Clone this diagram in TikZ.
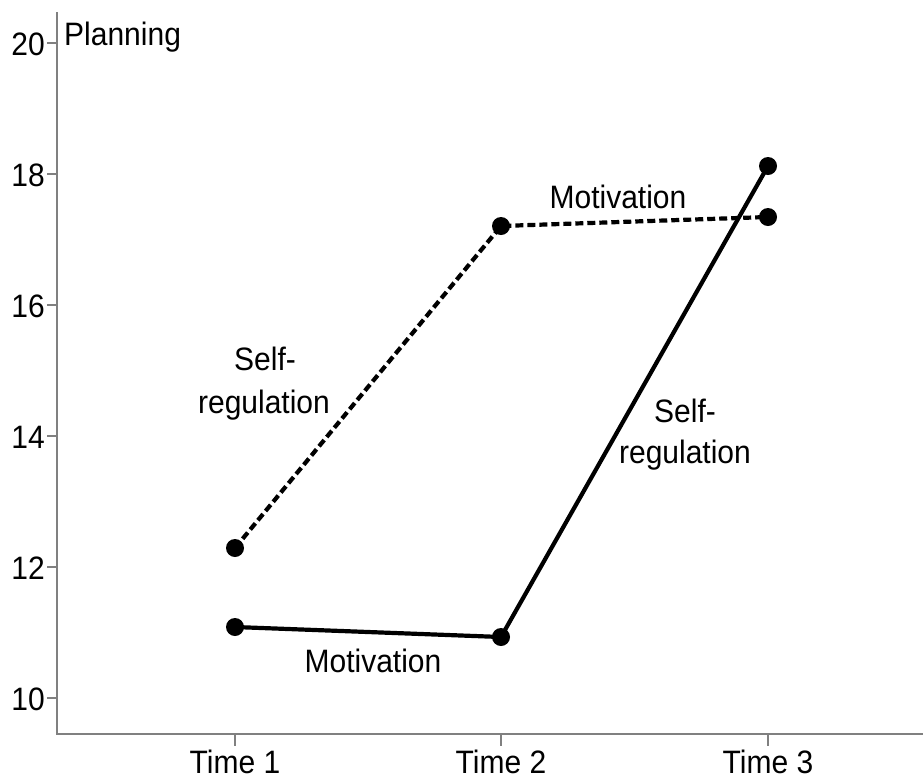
\documentclass[tikz,border=0pt]{standalone}
\usepackage{fontspec}
\setmainfont{Liberation Sans}
\begin{document}
\begin{tikzpicture}[x=1pt,y=-1pt,
  axisline/.style={draw=black!50,line width=2pt},
  dot/.style={circle,fill=black,inner sep=0pt,minimum size=18pt},
  solidline/.style={line width=4.2pt,black},
  dashline/.style={line width=4.2pt,black,dash pattern=on 8pt off 4pt},
  lbl/.style={inner sep=0pt,anchor=base,font=\fontsize{30}{36}\selectfont},
  ticklbl/.style={inner sep=0pt,font=\fontsize{30}{36}\selectfont}]
\useasboundingbox (0,0) rectangle (923,780);
% axes
\coordinate (ytop) at (57,12);
\coordinate (orig) at (57,734);
\coordinate (xend) at (923,734);
\draw[axisline] (ytop) -- (orig) -- (xend);
% y ticks
\foreach \v/\yy in {20/43,18/174,16/305,14/436,12/567,10/698}{
  \coordinate (yt\v) at (57,\yy);
  \coordinate (ytl\v) at (47,\yy);
  \draw[axisline] (yt\v) -- (ytl\v);
  \node[ticklbl,anchor=east] (ylab\v) at (45,\yy+1) {\scalebox{1}[1.08]{\v}};
}
% x ticks
\foreach \i/\xx in {1/235,2/501,3/768}{
  \coordinate (xt\i) at (\xx,734);
  \coordinate (xtl\i) at (\xx,746);
  \draw[axisline] (xt\i) -- (xtl\i);
  \node[lbl] (xlab\i) at (\xx,773) {\scalebox{1}[1.08]{Time \i}};
}
% axis title
\node[lbl,anchor=base west] (ytitle) at (64,45) {\scalebox{1}[1.08]{Planning}};
% data points
\node[dot] (d1) at (235,548) {};
\node[dot] (d2) at (501,226) {};
\node[dot] (d3) at (768,217) {};
\node[dot] (s1) at (235,627) {};
\node[dot] (s2) at (501,637) {};
\node[dot] (s3) at (768,166) {};
\draw[dashline] (d1.center) -- (d2.center) -- (d3.center);
\draw[solidline] (s1.center) -- (s2.center) -- (s3.center);
% labels
\node[lbl] (la1) at (265,370) {\scalebox{1}[1.08]{Self-}};
\node[lbl] (la2) at (264,413) {\scalebox{1}[1.08]{regulation}};
\node[lbl] (lb) at (618,208) {\scalebox{1}[1.08]{Motivation}};
\node[lbl] (lc1) at (685,422) {\scalebox{1}[1.08]{Self-}};
\node[lbl] (lc2) at (685,463) {\scalebox{1}[1.08]{regulation}};
\node[lbl] (ld) at (373,672) {\scalebox{1}[1.08]{Motivation}};
\end{tikzpicture}
\end{document}
